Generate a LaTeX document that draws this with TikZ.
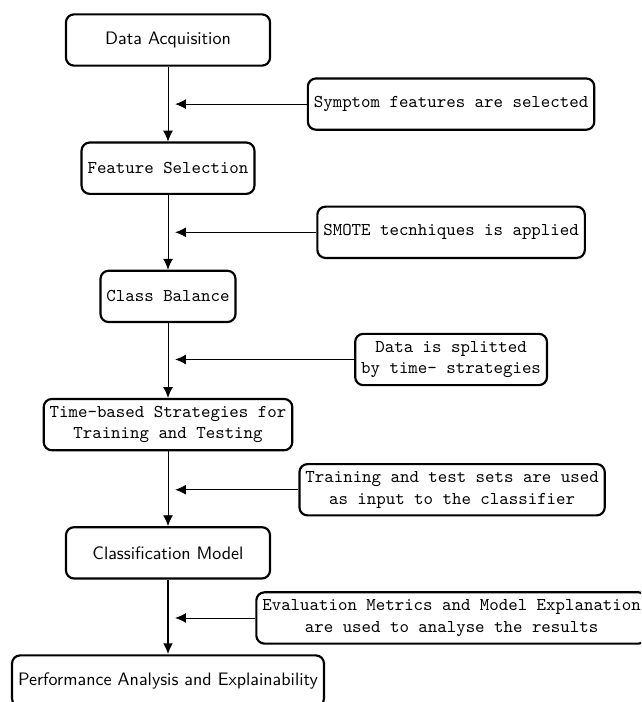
\documentclass[tikz,border=0pt]{standalone}
\usepackage{fontspec}
\usetikzlibrary{arrows.meta, positioning}

\begin{document}
\begin{tikzpicture}[
  node distance=2.5cm,
  stage/.style={rectangle, rounded corners=4.5pt, minimum width=3.98cm, minimum height=1cm, text centered, align=center, draw=black, line width=1.2pt, font=\sffamily},
  ttstage/.style={rectangle, rounded corners=4.5pt, minimum height=1cm, text centered, align=center, draw=black, line width=1.2pt, font=\ttfamily},
  note/.style={rectangle, rounded corners=4.5pt, minimum height=1cm, text centered, align=center, draw=black, line width=1.2pt, font=\ttfamily},
  arrow/.style={line width=0.5pt,-{Latex[length=6pt,width=5.5pt]}},
  sidearrow/.style={line width=0.45pt,-{Latex[length=6pt,width=5.5pt]}}]

  \clip (-3.276,0.78) rectangle (9.2235,-12.909);

  % Nodes
  \node (acq) [stage] {Data Acquisition};
  \node (feat) [ttstage, below of=acq] {Feature Selection};
  \node (balance) [ttstage, below of=feat] {Class Balance};
  \node (timebased) [ttstage, below of=balance] {Time-based Strategies for \\ Training and Testing};
  \node (classif) [stage, below of=timebased] {Classification Model};
  \node (perf) [stage, minimum width=0pt, below of=classif] {Performance Analysis and Explainability};

  \node (symptom) [note, below of=acq, yshift=1.25cm, xshift=5.52cm] {Symptom features are selected};
  \node (smote) [note, below of=feat, yshift=1.25cm, xshift=5.52cm] {SMOTE tecnhiques is applied};
  \node (split) [note, below of=balance, yshift=1.27cm, xshift=5.52cm] {Data is splitted \\ by time- strategies};
  \node (sets) [note, below of=timebased, yshift=1.23cm, xshift=5.54cm] {Training and test sets are used \\ as input to the classifier};
  \node (metrics) [note, below of=classif, yshift=1.23cm, xshift=5.53cm] {Evaluation Metrics and Model Explanation \\ are used to analyse the results};

  % Arrow targets on the main line
  \coordinate (hit1) at ([xshift=0.14cm]symptom.west -| acq.south);
  \coordinate (hit2) at ([xshift=0.14cm]smote.west -| acq.south);
  \coordinate (hit3) at ([xshift=0.14cm]split.west -| acq.south);
  \coordinate (hit4) at ([xshift=0.14cm]sets.west -| acq.south);
  \coordinate (hit5) at ([xshift=0.14cm]metrics.west -| acq.south);

  % Arrows
  \draw [arrow] (acq) -- (feat);
  \draw [arrow] (feat) -- (balance);
  \draw [arrow] (balance) -- (timebased);
  \draw [arrow] (timebased) -- (classif);
  \draw [arrow, line width=1.2pt] (classif) -- (perf);

  \draw [sidearrow] (symptom) -- (hit1);
  \draw [sidearrow] (smote) -- (hit2);
  \draw [sidearrow] (split) -- (hit3);
  \draw [sidearrow] (sets) -- (hit4);
  \draw [sidearrow] (metrics) -- (hit5);

\end{tikzpicture}
\end{document}
